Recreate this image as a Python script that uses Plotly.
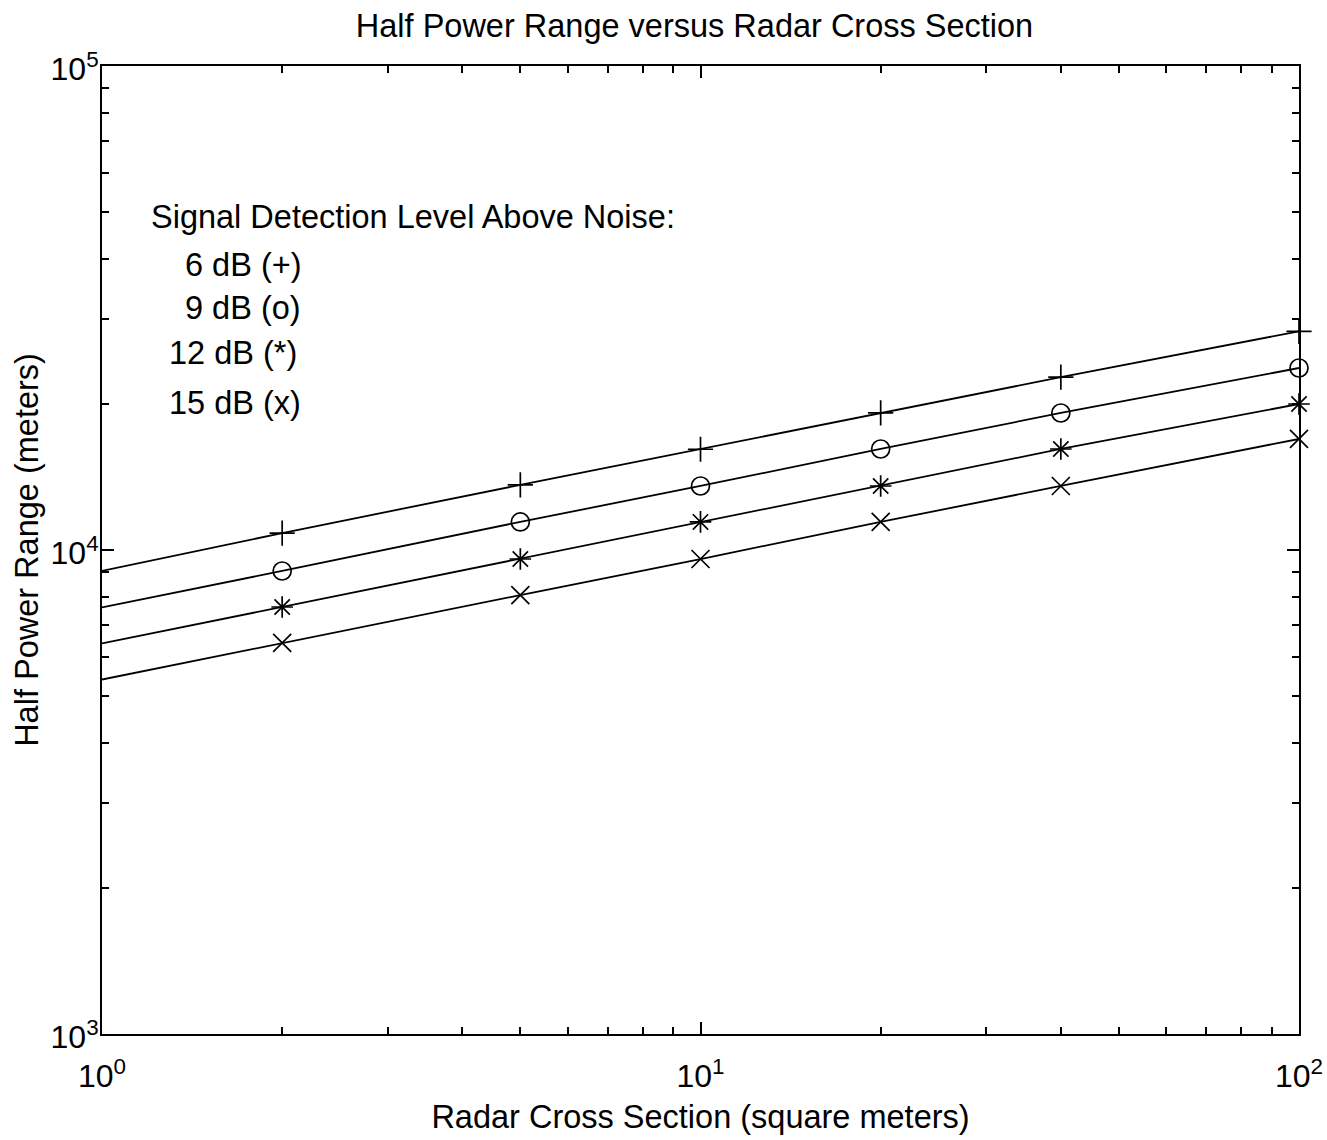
import plotly.graph_objects as go

# Radar cross section (square meters)
rcs = [1, 2, 5, 10, 20, 40, 100]

# Half power range (meters), one list per detection level
range_6db = [9050, 10840, 13630, 16150, 19200, 22750, 28300]
range_9db = [7610, 9050, 11430, 13560, 16170, 19190, 23770]
range_12db = [6410, 7625, 9580, 11430, 13560, 16170, 20030]
range_15db = [5400, 6430, 8070, 9580, 11430, 13560, 16960]

series_names = ["6 dB (+)", "9 dB (o)", "12 dB (*)", "15 dB (x)"]
marker_symbols = ["cross-thin-open", "circle-open", "asterisk-open", "x-thin-open"]

x_tick_vals = [1, 10, 100]
x_tick_text = ["10<sup>0</sup>", "10<sup>1</sup>", "10<sup>2</sup>"]
y_tick_vals = [1000, 10000, 100000]
y_tick_text = ["10<sup>3</sup>", "10<sup>4</sup>", "10<sup>5</sup>"]
x_minor = [2, 3, 4, 5, 6, 7, 8, 9, 20, 30, 40, 50, 60, 70, 80, 90]
y_minor = [2000, 3000, 4000, 5000, 6000, 7000, 8000, 9000,
           20000, 30000, 40000, 50000, 60000, 70000, 80000, 90000]

legend_title = "Signal Detection Level Above Noise:"
legend_lines = ["6 dB (+)", "9 dB (o)", "12 dB (*)", "15 dB (x)"]

FONT = "Liberation Sans, Arial, Helvetica, sans-serif"
FS = 32.5
TFS = 32

fig = go.Figure()
all_series = [range_6db, range_9db, range_12db, range_15db]
for name, vals, sym in zip(series_names, all_series, marker_symbols):
    fig.add_trace(go.Scatter(x=rcs, y=vals, mode="lines", name=name,
                             line=dict(color="black", width=1.8),
                             showlegend=False, cliponaxis=False))
    fig.add_trace(go.Scatter(x=rcs[1:], y=vals[1:], mode="markers", name=name,
                             marker=dict(symbol=sym, size=18, color="black",
                                         line=dict(color="black", width=1.7)),
                             showlegend=False, cliponaxis=False))

axis_common = dict(
    type="log", showgrid=False, zeroline=False, automargin=False,
    showline=True, linecolor="black", linewidth=2, mirror="ticks",
    ticks="inside", ticklen=12, tickwidth=1.6, tickcolor="black",
    tickfont=dict(family=FONT, size=TFS, color="black"),
    tickmode="array",
)

fig.update_xaxes(**axis_common, range=[0, 2], tickvals=x_tick_vals, ticktext=x_tick_text,
                 ticklabelstandoff=13,
                 minor=dict(tickmode="array", tickvals=x_minor, ticks="inside", ticklen=7,
                            tickwidth=1.5, tickcolor="black", showgrid=False),
                 title=dict(text="Radar Cross Section (square meters)",
                            font=dict(family=FONT, size=FS, color="black"), standoff=12))
fig.update_yaxes(**axis_common, range=[3, 5], tickvals=y_tick_vals, ticktext=y_tick_text,
                 ticklabelshift=3, ticklabelstandoff=-5,
                 minor=dict(tickmode="array", tickvals=y_minor, ticks="inside", ticklen=7,
                            tickwidth=1.5, tickcolor="black", showgrid=False),
                 title=dict(text="Half Power Range (meters)",
                            font=dict(family=FONT, size=FS, color="black"), standoff=2))

fig.add_annotation(x=0.039, y=0.844, xref="paper", yref="paper", text=legend_title,
                   showarrow=False, xanchor="left", yanchor="middle",
                   font=dict(family=FONT, size=FS, color="black"))
leg_x = [0.068, 0.068, 0.054, 0.054]
leg_y = [0.794, 0.750, 0.704, 0.652]
for t, lx, ly in zip(legend_lines, leg_x, leg_y):
    fig.add_annotation(x=lx, y=ly, xref="paper", yref="paper", text=t,
                       showarrow=False, xanchor="left", yanchor="middle",
                       font=dict(family=FONT, size=FS, color="black"))

fig.update_layout(
    width=1327, height=1140,
    margin=dict(l=102, r=28, t=66, b=106, autoexpand=False),
    paper_bgcolor="white", plot_bgcolor="white",
    title=dict(text="Half Power Range versus Radar Cross Section",
               x=0.495, xref="paper", y=1 - 26 / 1140, yref="container", yanchor="middle",
               font=dict(family=FONT, size=FS, color="black")),
)

fig.write_html("out.html")
